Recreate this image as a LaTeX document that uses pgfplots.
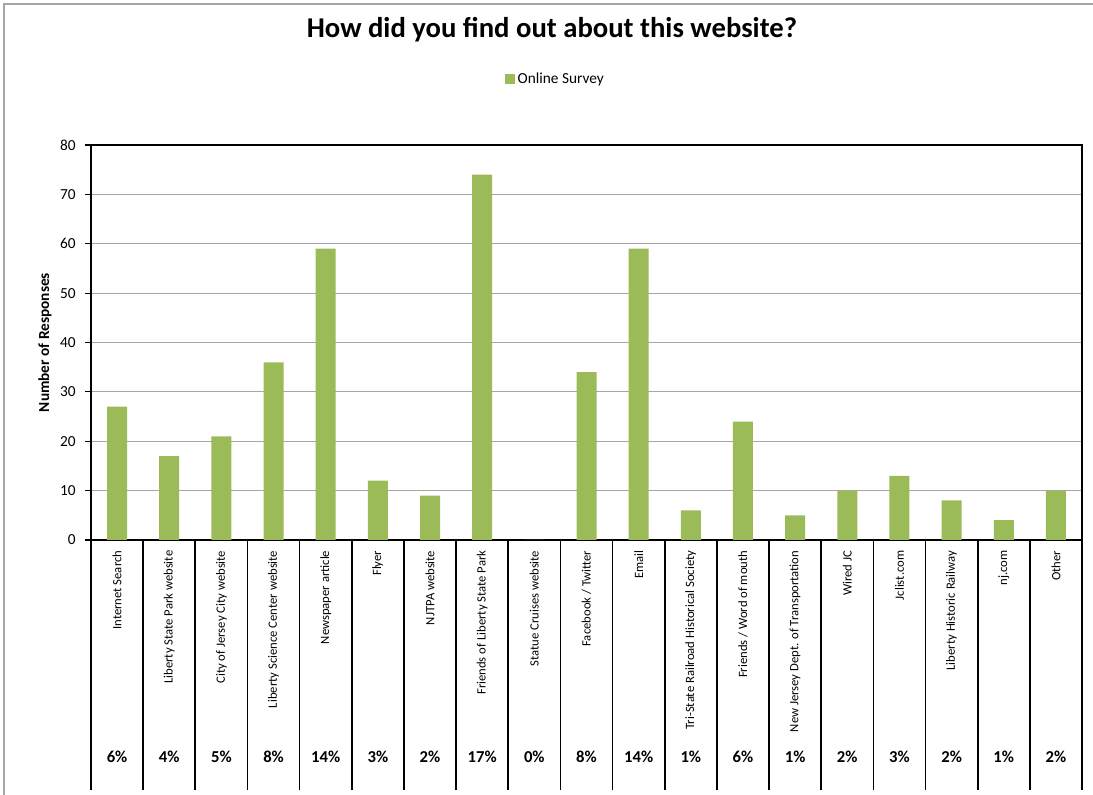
\documentclass[border=0pt]{standalone}
\usepackage{pgfplots}
\pgfplotsset{compat=1.18}
\usepackage{pgfplotstable}
\usepackage{fontspec}
\setmainfont{Carlito}
\definecolor{barg}{HTML}{9BBB59}
\definecolor{gridg}{HTML}{A6A6A6}

% responses and share of all answers, one row per category
\pgfplotstableread[col sep=comma]{
x,y,base,pct
0,27,0,6
1,17,0,4
2,21,0,5
3,36,0,8
4,59,0,14
5,12,0,3
6,9,0,2
7,74,0,17
8,0,0,0
9,34,0,8
10,59,0,14
11,6,0,1
12,24,0,6
13,5,0,1
14,10,0,2
15,13,0,3
16,8,0,2
17,4,0,1
18,10,0,2
}\survey

\begin{document}
\begin{tikzpicture}
\useasboundingbox (-68.25pt,-191.25pt) rectangle (751.5pt,405pt);
% frame of the chart area
\draw[gridg, line width=1.5pt] (-65.25pt,-191.25pt) -- (-65.25pt,402pt) -- (751.5pt,402pt);
\begin{axis}[
    name=ax, at={(0,0)}, anchor=south west,
    scale only axis, width=743.25pt, height=296.25pt,
    xmin=-0.5, xmax=18.5, ymin=0, ymax=80,
    ytick={0,10,...,80},
    xtick={0,...,18},
    xticklabels={Internet Search, Liberty State Park website, City of Jersey City website,
        Liberty Science Center website, Newspaper article, Flyer, NJTPA website,
        Friends of Liberty State Park, Statue Cruises website, Facebook / Twitter, Email,
        Tri-State Railroad Historical Society, Friends / Word of mouth,
        New Jersey Dept. of Transportation, Wired JC, Jclist.com, Liberty Historic Railway,
        nj.com, Other},
    x tick label style={rotate=90, anchor=east, font=\fontsize{9.5}{11}\selectfont},
    y tick label style={font=\fontsize{11.5}{13}\selectfont, xshift=-3.5pt},
    /pgf/number format/assume math mode=true,
    tick pos=left, tick align=outside,
    major tick length=4.5pt,
    major x tick style={draw=none},
    y tick style={black, line width=0.8pt},
    extra x ticks={-0.5,0.5,...,18.5},
    extra x tick labels={},
    extra x tick style={major x tick style={draw=black, line width=1.3pt},
        major tick length=187.5pt, grid=none},
    ymajorgrids, grid style={gridg, line width=0.9pt},
    axis line style={black, line width=1.3pt},
    clip=false,
    title={How did you find out about this website?},
    title style={at={(axis description cs:0.465,1.253)}, anchor=base,
        font=\bfseries\fontsize{21.5}{24}\selectfont},
    ylabel={Number of Responses},
    every axis y label/.style={at={(axis description cs:0,0.5)}, xshift=-34.5pt,
        anchor=center, rotate=90, font=\bfseries\fontsize{11.5}{13}\selectfont},
    legend style={at={(axis description cs:0.469,1.167)}, anchor=center,
        draw=none, fill=none, font=\fontsize{11.5}{13}\selectfont},
]
\addplot[ybar, bar width=15pt, fill=barg, draw=none,
    legend image code/.code={\fill[barg] (0pt,-3.75pt) rectangle (7.5pt,3.75pt);}]
    table[x=x, y=y] {\survey};
\addlegendentry{Online Survey}
\addplot[draw=none, mark=none, forget plot,
    point meta=explicit symbolic,
    nodes near coords={\pgfplotspointmeta\%},
    every node near coord/.append style={anchor=center, yshift=-162.75pt,
        font=\bfseries\fontsize{12.5}{14}\selectfont, black}]
    table[x=x, y=base, meta=pct] {\survey};
\end{axis}
\end{tikzpicture}
\end{document}
